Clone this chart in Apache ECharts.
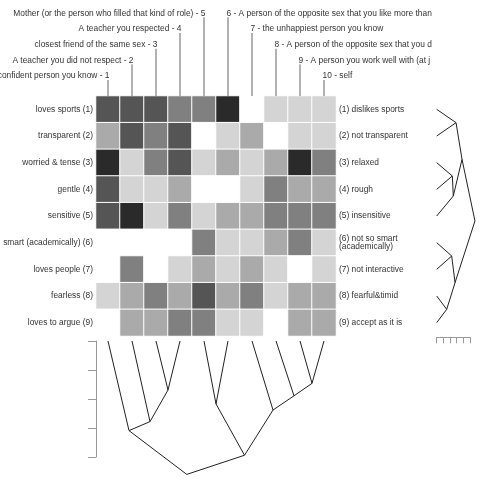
<!DOCTYPE html>
<html><head><meta charset="utf-8">
<script src="https://cdn.jsdelivr.net/npm/echarts@6/dist/echarts.min.js"></script>
<style>html,body{margin:0;padding:0;background:#fff}#c{width:480px;height:480px}</style>
</head><body><div id="c"></div>
<script>
// ---- data ----
const leftPoles = ['loves sports (1)', 'transparent (2)', 'worried & tense (3)', 'gentle (4)', 'sensitive (5)',
  'smart (academically) (6)', 'loves people (7)', 'fearless (8)', 'loves to argue (9)'];
const rightPoles = ['(1) dislikes sports', '(2) not transparent', '(3) relaxed', '(4) rough', '(5) insensitive',
  '(6) not so smart\n(academically)', '(7) not interactive', '(8) fearful&timid', '(9) accept as it is'];
const elements = [
  'confident person you know - 1',
  'A teacher you did not respect - 2',
  'closest friend of the same sex - 3',
  'A teacher you respected - 4',
  'Mother (or the person who filled that kind of role) - 5',
  '6 - A person of the opposite sex that you like more than a friend',
  '7 - the unhappiest person you know',
  '8 - A person of the opposite sex that you dislike',
  '9 - A person you work well with (at job)',
  '10 - self'
];
// shade level per cell: 0 = white ... 5 = darkest
const ratings = [
  [4,4,4,3,3,5,0,1,1,1],
  [2,4,3,4,0,1,2,0,1,1],
  [5,1,3,4,1,2,1,2,5,3],
  [4,1,1,2,0,0,1,3,2,2],
  [4,5,1,3,1,2,2,3,3,3],
  [0,0,0,0,3,1,1,2,3,1],
  [0,3,0,1,2,1,2,1,0,1],
  [1,2,3,2,4,2,3,1,2,2],
  [0,2,2,3,3,1,1,0,2,2]
];
// hclust-style merges: negative = leaf (1-based), positive = earlier merge
const colMerge = [[-3,-4],[-2,1],[-1,2],[-5,-6],[-9,-10],[-8,5],[-7,6],[4,7],[3,8]];
const colHeights = [1.69,2.78,3.09,2.17,1.46,1.89,2.38,3.94,4.6];
const rowMerge = [[-1,-2],[-3,-4],[-5,2],[1,3],[-6,-7],[-8,-9],[5,6],[4,7]];
const rowHeights = [2.9,2.34,2.49,3.8,2.25,1.5,2.75,5.74];

// ---- style ----
const shades = ['#ffffff','#d4d4d4','#aaaaaa','#808080','#555555','#2a2a2a'];
const FONT = 'Liberation Sans, Arial, sans-serif';
const FS = 8.4;
const TXT = '#333';

function dendroSegments(merge, heights) {
  const nodes = [];
  const get = (k) => k < 0 ? { p: -k - 1, h: 0 } : nodes[k - 1];
  const segs = [];
  merge.forEach((m, j) => {
    const a = get(m[0]), b = get(m[1]);
    const n = { p: (a.p + b.p) / 2, h: heights[j] };
    nodes.push(n);
    segs.push([a, n], [b, n]);
  });
  return segs;
}

const heatData = [];
ratings.forEach((row, r) => row.forEach((v, c) => heatData.push([c, r, v])));

const colSegs = dendroSegments(colMerge, colHeights).map(([a, b]) => ({ coords: [[a.p, a.h], [b.p, b.h]] }));
const rowSegs = dendroSegments(rowMerge, rowHeights).map(([a, b]) => ({ coords: [[a.h, a.p], [b.h, b.p]] }));

const chart = echarts.init(document.getElementById('c'), null, { renderer: 'canvas' });
const hidden = { show: false };
chart.setOption({
  animation: false,
  backgroundColor: '#fff',
  grid: [
    { left: 96, top: 96, width: 240, height: 240 },
    { left: 108, top: 341, width: 216, height: 116 },
    { left: 436.7, top: 109.33, width: 33.33, height: 213.33 }
  ],
  xAxis: [
    { gridIndex: 0, type: 'category', data: elements.map((_, i) => i), axisLine: hidden, axisTick: hidden, axisLabel: hidden, splitLine: hidden },
    { gridIndex: 1, type: 'value', min: 0, max: 9, show: false },
    { gridIndex: 2, type: 'value', min: 0, max: 5, interval: 1, position: 'bottom', offset: 14.67,
      axisLine: { show: true, onZero: false, lineStyle: { color: '#999', width: 1 } },
      axisTick: { show: true, length: 6, inside: false, lineStyle: { color: '#999', width: 1 } },
      axisLabel: hidden, splitLine: hidden }
  ],
  yAxis: [
    { gridIndex: 0, type: 'category', inverse: true, data: leftPoles, position: 'left',
      axisLine: hidden, axisTick: hidden, splitLine: hidden,
      axisLabel: { margin: 3, fontSize: FS, fontFamily: FONT, color: TXT } },
    { gridIndex: 0, type: 'category', inverse: true, data: rightPoles, position: 'right',
      axisLine: hidden, axisTick: hidden, splitLine: hidden,
      axisLabel: { margin: 3, fontSize: FS, fontFamily: FONT, color: TXT, lineHeight: 8 } },
    { gridIndex: 1, type: 'value', inverse: true, min: 0, max: 4, interval: 1, position: 'left', offset: 12,
      axisLine: { show: true, onZero: false, lineStyle: { color: '#999', width: 1 } },
      axisTick: { show: true, length: 8, inside: false, lineStyle: { color: '#999', width: 1 } },
      axisLabel: hidden, splitLine: hidden },
    { gridIndex: 2, type: 'value', inverse: true, min: 0, max: 8, show: false }
  ],
  visualMap: {
    type: 'piecewise', show: false, seriesIndex: 0, dimension: 2,
    pieces: shades.map((c, k) => ({ value: k, color: c }))
  },
  series: [
    {
      type: 'heatmap', xAxisIndex: 0, yAxisIndex: 0, data: heatData,
      itemStyle: { borderColor: '#fff', borderWidth: 1 }, emphasis: { disabled: true }, silent: true
    },
    {
      type: 'custom', xAxisIndex: 0, yAxisIndex: 0, silent: true,
      data: elements.map((_, i) => [i, 0]),
      renderItem: function (params, api) {
        const i = api.value(0);
        const pt = api.coord([i, 0]);
        const top = pt[1] - api.size([1, 1])[1] / 2;
        const x = pt[0];
        const tier = i < 5 ? i : 9 - i;
        const ly = 76 - tier * 15.67;
        const leftSide = i < 5;
        return {
          type: 'group',
          children: [
            { type: 'line', shape: { x1: x, y1: ly + 4, x2: x, y2: top }, style: { stroke: '#999', lineWidth: 1.5 } },
            { type: 'text', style: {
                text: elements[i], x: leftSide ? x + 1.5 : x - 1.5, y: ly,
                align: leftSide ? 'right' : 'left', verticalAlign: 'middle',
                fontSize: FS, fontFamily: FONT, fill: TXT,
                width: leftSide ? undefined : 434 - (x - 1.5), overflow: leftSide ? 'none' : 'truncate', ellipsis: ''
              } }
          ]
        };
      }
    },
    {
      type: 'lines', coordinateSystem: 'cartesian2d', xAxisIndex: 1, yAxisIndex: 2, polyline: false, clip: false,
      silent: true, lineStyle: { color: '#222', width: 1, opacity: 1 }, data: colSegs
    },
    {
      type: 'lines', coordinateSystem: 'cartesian2d', xAxisIndex: 2, yAxisIndex: 3, polyline: false, clip: false,
      silent: true, lineStyle: { color: '#222', width: 1, opacity: 1 }, data: rowSegs
    }
  ]
});
</script>
</body></html>
